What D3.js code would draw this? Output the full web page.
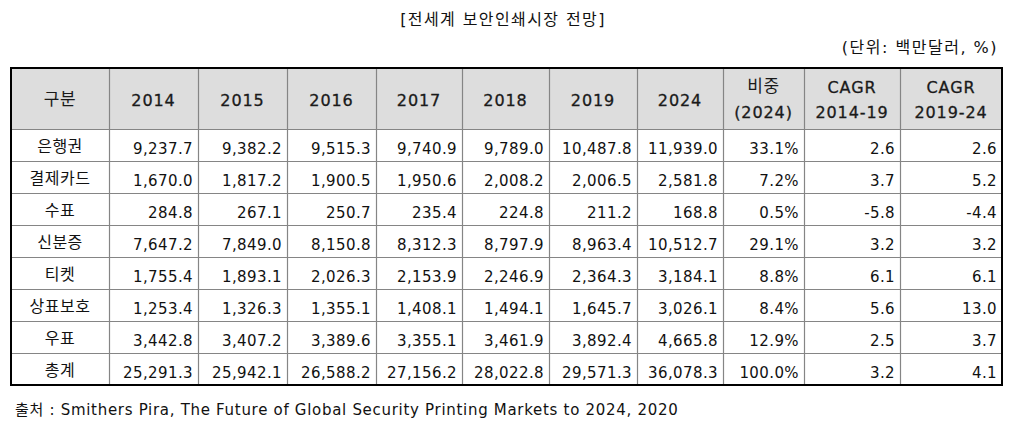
<!DOCTYPE html>
<html>
<head>
<meta charset="utf-8">
<script src="https://cdn.jsdelivr.net/npm/d3@7.9.0/dist/d3.min.js"></script>
<style>
  body { margin: 0; background: #fff; }
  svg text { font-family: "DejaVu Sans", "Noto Sans CJK KR", sans-serif; fill: #111; }
</style>
</head>
<body>
<svg id="chart" width="1013" height="429"></svg>
<script>
// table data
const categories = ['은행권', '결제카드', '수표', '신분증', '티켓', '상표보호', '우표', '총계'];
const years = ['2014', '2015', '2016', '2017', '2018', '2019', '2024'];
const banknotes = [9237.7, 9382.2, 9515.3, 9740.9, 9789.0, 10487.8, 11939.0];
const payCards = [1670.0, 1817.2, 1900.5, 1950.6, 2008.2, 2006.5, 2581.8];
const cheques = [284.8, 267.1, 250.7, 235.4, 224.8, 211.2, 168.8];
const idCards = [7647.2, 7849.0, 8150.8, 8312.3, 8797.9, 8963.4, 10512.7];
const tickets = [1755.4, 1893.1, 2026.3, 2153.9, 2246.9, 2364.3, 3184.1];
const brandProtection = [1253.4, 1326.3, 1355.1, 1408.1, 1494.1, 1645.7, 3026.1];
const stamps = [3442.8, 3407.2, 3389.6, 3355.1, 3461.9, 3892.4, 4665.8];
const total = [25291.3, 25942.1, 26588.2, 27156.2, 28022.8, 29571.3, 36078.3];
const share2024 = [33.1, 7.2, 0.5, 29.1, 8.8, 8.4, 12.9, 100.0];
const cagr1419 = [2.6, 3.7, -5.8, 3.2, 6.1, 5.6, 2.5, 3.2];
const cagr1924 = [2.6, 5.2, -4.4, 3.2, 6.1, 13.0, 3.7, 4.1];
const headers = [['구분'], ...years.map(y => [y]), ['비중', '(2024)'], ['CAGR', '2014-19'], ['CAGR', '2019-24']];

const yearValues = [banknotes, payCards, cheques, idCards, tickets, brandProtection, stamps, total];

const locale = d3.formatLocale({ decimal: '.', thousands: ',', grouping: [3], currency: ['', ''], minus: '-' });
const fmtNum = locale.format(',.1f');
const fmtDec = locale.format('.1f');

const rows = categories.map((c, i) => [
  c,
  ...yearValues[i].map(fmtNum),
  fmtDec(share2024[i]) + '%',
  fmtDec(cagr1419[i]),
  fmtDec(cagr1924[i])
]);

// layout
const colEdges = [11, 109, 198, 287, 376, 462, 549, 637, 723, 804, 900, 1002];
const tableTop = 68, headerBottom = 129, tableBottom = 385;

const x = d3.scaleOrdinal().domain(d3.range(colEdges.length)).range(colEdges);
const y = d3.scaleBand().domain(d3.range(categories.length)).range([headerBottom, tableBottom]);

const svg = d3.select('#chart');

svg.append('text').attr('x', 503).attr('y', 25).attr('text-anchor', 'middle')
  .attr('font-size', 16).attr('letter-spacing', 1.4).text('[전세계 보안인쇄시장 전망]');
svg.append('text').attr('x', 998).attr('y', 53).attr('text-anchor', 'end')
  .attr('font-size', 16).attr('letter-spacing', 1.5).text('(단위: 백만달러, %)');
svg.append('text').attr('x', 15).attr('y', 415)
  .attr('font-size', 15).attr('letter-spacing', 0.7)
  .text('출처 : Smithers Pira, The Future of Global Security Printing Markets to 2024, 2020');

// header background
svg.append('rect').attr('x', x(0)).attr('y', tableTop)
  .attr('width', x(11) - x(0)).attr('height', headerBottom - tableTop)
  .attr('fill', '#dddddd');

// grid lines
const grid = svg.append('g').attr('stroke', '#858585').attr('stroke-width', 1.2);
d3.range(1, 11).forEach(i => {
  grid.append('line').attr('x1', x(i) + 0.5).attr('x2', x(i) + 0.5).attr('y1', tableTop).attr('y2', tableBottom);
});
d3.range(categories.length).forEach(i => {
  grid.append('line').attr('x1', x(0)).attr('x2', x(11)).attr('y1', y(i) + 0.5).attr('y2', y(i) + 0.5);
});
svg.append('rect').attr('x', x(0)).attr('y', tableTop)
  .attr('width', x(11) - x(0)).attr('height', tableBottom - tableTop)
  .attr('fill', 'none').attr('stroke', '#000').attr('stroke-width', 2);

// header text
headers.forEach((lines, j) => {
  const cx = (x(j) + x(j + 1)) / 2;
  const offsets = lines.length === 1 ? [106] : [93, 118];
  lines.forEach((t, k) => {
    const hangul = /[가-힣]/.test(t);
    svg.append('text').attr('x', cx)
      .attr('y', offsets[k] - (hangul ? 1 : 0))
      .attr('text-anchor', 'middle').attr('font-size', hangul ? 17 : 16)
      .attr('letter-spacing', hangul ? 0.5 : 0.9)
      .style('fill', '#1a1a1a')
      .style('stroke', hangul ? 'none' : '#1a1a1a')
      .style('stroke-width', 0.3)
      .text(t);
  });
});

// body
rows.forEach((r, i) => {
  const mid = y(i) + y.bandwidth() / 2;
  r.forEach((t, j) => {
    const first = j === 0;
    svg.append('text')
      .attr('x', first ? (x(0) + x(1)) / 2 : x(j + 1) - 5)
      .attr('y', first ? mid + 7 : mid + 9)
      .attr('text-anchor', first ? 'middle' : 'end')
      .attr('font-size', first ? 16 : 15)
      .attr('letter-spacing', first ? 0.5 : 0.4)
      .text(t);
  });
});
</script>
</body>
</html>
